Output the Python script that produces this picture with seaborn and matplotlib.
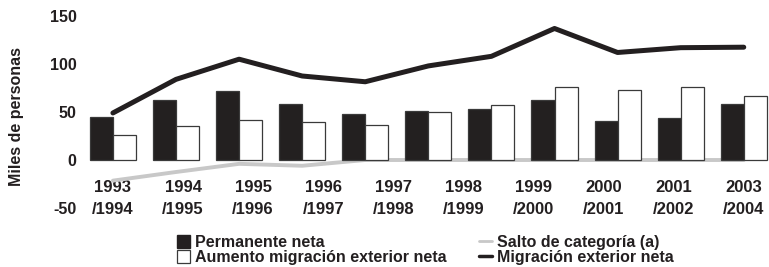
import matplotlib
matplotlib.use('Agg')
import matplotlib.pyplot as plt
from matplotlib.patches import Patch
from matplotlib.lines import Line2D
import seaborn as sns
import pandas as pd
import numpy as np

# datos (miles de personas)
periodos = ['1993/1994', '1994/1995', '1995/1996', '1996/1997', '1997/1998', '1998/1999',
            '1999/2000', '2000/2001', '2001/2002', '2002/2003', '2003/2004']
permanente = [45, 62.5, 72, 58, 48, 51, 53, 63, 40.5, 44, 58.5]
aumento = [26.5, 35, 41.5, 40, 36, 49.5, 57.5, 76, 73, 76, 66.5]
salto = [-21.5, -12.5, -4, -6, 0, 0, 0, 0, 0, 0, 0]
migracion = [49, 84, 105, 87.5, 81.5, 98, 108, 137, 112, 117, 117.5]

# etiquetas del eje x tal como aparecen (10 etiquetas para 11 periodos)
etiquetas_x = ['1993\n/1994', '1994\n/1995', '1995\n/1996', '1996\n/1997', '1997\n/1998',
               '1998\n/1999', '1999\n/2000', '2000\n/2001', '2001\n/2002', '2003\n/2004']
ticks_y = [-50, 0, 50, 100, 150]

negro = '#231f20'
gris = '#c8c8c8'

sns.set_theme(style='white')
plt.rcParams['font.family'] = ['Liberation Sans', 'DejaVu Sans']
plt.rcParams['font.weight'] = 'bold'
plt.rcParams['text.color'] = negro

df_barras = pd.DataFrame({
    'periodo': periodos * 2,
    'valor': permanente + aumento,
    'serie': ['Permanente neta'] * len(periodos) + ['Aumento migración exterior neta'] * len(periodos),
})
df_lineas = pd.DataFrame({'periodo': periodos, 'salto': salto, 'migracion': migracion})

fig = plt.figure(figsize=(7.69, 2.67), dpi=100)
ax = fig.add_axes([82 / 769, 59 / 267, 687 / 769, 192 / 267])

sns.barplot(data=df_barras, x='periodo', y='valor', hue='serie',
            palette=[negro, 'white'], width=0.73, edgecolor='#3a3a3a',
            linewidth=0.9, legend=False, ax=ax, zorder=2)
sns.lineplot(data=df_lineas, x='periodo', y='salto', color=gris, lw=2.8,
             ax=ax, zorder=1)
sns.lineplot(data=df_lineas, x='periodo', y='migracion', color=negro, lw=3.6,
             ax=ax, zorder=3)

ax.set_xlim(-0.49, 10.4)
ax.set_ylim(-50, 150)
ax.set_yticks(ticks_y)
ax.set_yticklabels([str(t) for t in ticks_y], fontsize=11.5, fontweight='bold', color=negro)
ax.set_xticks(np.linspace(0, len(periodos) - 1, len(etiquetas_x)))
ax.set_xticklabels(etiquetas_x, fontsize=12, fontweight='bold', color=negro,
                   linespacing=1.55)
ax.tick_params(axis='x', length=0, pad=-20)
ax.tick_params(axis='y', length=0, pad=4)
ax.set_xlabel('')
ax.set_ylabel('')
for s in ax.spines.values():
    s.set_visible(False)

fig.text(16.5 / 769, 1 - 117 / 267, 'Miles de personas', rotation=90,
         ha='center', va='center', fontsize=11.5, fontweight='bold', color=negro)

manijas1 = [Patch(facecolor=negro, edgecolor=negro, label='Permanente neta'),
            Patch(facecolor='white', edgecolor='#3a3a3a', lw=0.9,
                  label='Aumento migración exterior neta')]
manijas2 = [Line2D([], [], color=gris, lw=2, label='Salto de categoría (a)'),
            Line2D([], [], color=negro, lw=2.5, label='Migración exterior neta')]
props = dict(loc='upper left', frameon=False, handlelength=0.8,
             handleheight=0.8, handletextpad=0.3, labelspacing=0.0, borderpad=0,
             borderaxespad=0, prop={'weight': 'bold', 'size': 11.5})
fig.legend(handles=manijas1, bbox_to_anchor=(177 / 769, 1 - 235 / 267), **props)
fig.legend(handles=manijas2, bbox_to_anchor=(479 / 769, 1 - 235 / 267), **props)

fig.savefig('out.png', dpi=100, facecolor='white')
